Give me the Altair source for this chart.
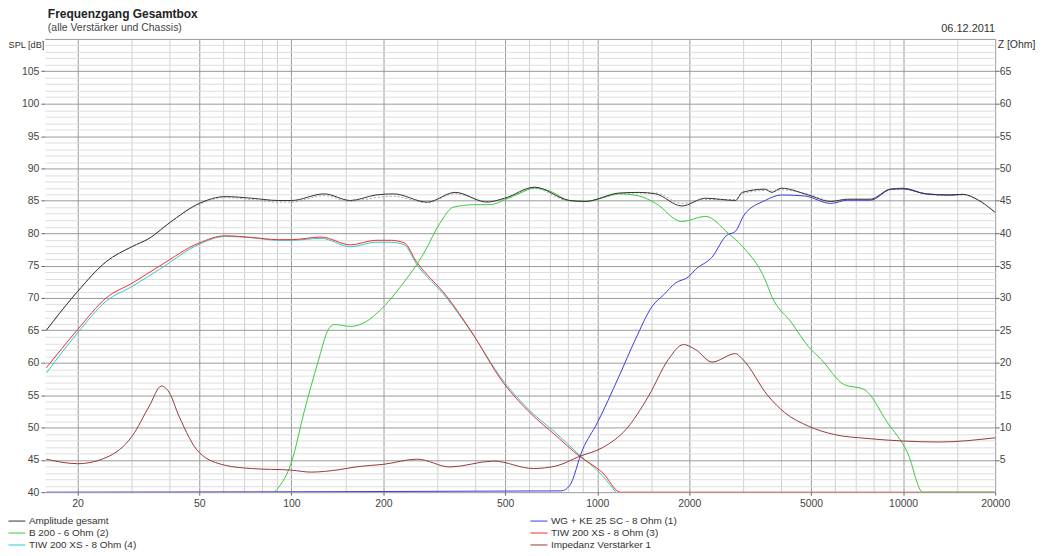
import altair as alt
import pandas as pd

# ---------------- data ----------------
amp_f = [15.8, 20, 24.8, 30.2, 34.3, 39.8, 50, 60.8, 74.2, 90.6, 100, 128, 156, 189, 216, 278, 343, 436, 498,
         624, 812, 914, 1178, 1369, 1553, 1890, 2258, 2832, 2978, 3540, 3720, 4000, 4900, 5800, 6580, 7820,
         9110, 10000, 11900, 14140, 15700, 17500, 20000]
amp_db = [65.0, 71.0, 75.6, 77.95, 79.2, 81.55, 84.6, 85.65, 85.4, 85.05, 85.05, 86.07, 85.05, 85.9, 86.07, 84.8,
          86.3, 84.8, 85.4, 87.1, 85.05, 84.9, 86.2, 86.3, 86.07, 84.2, 85.4, 85.05, 86.3, 86.8, 86.3, 86.95, 85.9,
          84.9, 85.25, 85.25, 86.8, 86.85, 86.07, 85.9, 86.0, 85.2, 83.2]
amp_ref_db = [65.0, 71.0, 75.6, 77.95, 79.2, 81.5, 84.5, 85.5, 85.2, 84.8, 84.8, 85.8, 84.9, 85.5, 85.7, 84.7,
              86.1, 84.9, 85.3, 86.9, 85.0, 85.0, 86.1, 86.2, 86.2, 84.6, 85.2, 85.2, 86.1, 86.6, 86.5, 86.7, 86.0,
              85.0, 85.1, 85.1, 86.7, 86.8, 86.0, 85.8, 85.9, 85.1, 83.2]

wg_f = [15.8, 763, 812, 896, 1000, 1178, 1333, 1512, 1650, 1802, 1992, 2096, 2372, 2640, 2832, 3020, 3540, 4000,
        4760, 5800, 6580, 7820, 9110, 10000, 11900, 14140, 15700]
wg_db = [40.0, 40.2, 41.0, 46.6, 50.7, 57.9, 63.6, 68.7, 70.5, 72.3, 73.3, 74.4, 76.3, 79.6, 80.3, 82.8, 85.05,
         85.9, 85.75, 84.6, 85.1, 85.1, 86.8, 86.95, 86.07, 85.9, 86.0]

b200_f = [88, 100, 110.6, 122, 132, 138, 156, 175, 196, 228, 271, 306, 338, 394, 446, 498, 560, 624, 700, 812, 914,
          1050, 1178, 1369, 1553, 1890, 2258, 2680, 2978, 3540, 3720, 4330, 4900, 5400, 6420, 7440, 8900, 10340,
          11600, 20000]
b200_db = [40.0, 44.6, 52.8, 60.0, 65.1, 65.9, 65.6, 66.3, 68.2, 71.8, 76.9, 81.55, 84.0, 84.4, 84.4, 85.15, 86.2,
           87.0, 86.5, 85.05, 84.9, 85.5, 86.07, 85.75, 84.6, 81.8, 82.6, 80.0, 78.0, 72.8, 70.25, 66.1, 62.5, 60.5,
           56.6, 55.9, 50.7, 46.1, 40.0, 40.0]

tiw3_f = [15.8, 20, 24.8, 30.2, 37, 50, 60.8, 74, 90.6, 100, 125, 156, 189, 212, 234, 256, 322, 384, 493, 602, 734,
          872, 1042, 1190, 20000]
tiw3_db = [59.2, 65.1, 70.0, 72.3, 74.9, 78.5, 79.6, 79.35, 79.0, 79.0, 79.4, 78.2, 78.9, 78.9, 78.5, 75.65, 70.25,
           65.1, 56.9, 52.3, 48.7, 45.6, 43.0, 40.0, 40.0]

tiw4_f = [15.8, 20, 24.8, 30.2, 37, 50, 60.8, 74, 90.6, 100, 125, 156, 189, 212, 234, 256, 322, 384, 493, 602, 734,
          872, 1042, 1150]
tiw4_db = [58.4, 64.6, 69.5, 71.8, 74.4, 78.3, 79.5, 79.3, 78.9, 78.9, 79.2, 77.9, 78.6, 78.6, 78.2, 75.3, 70.0,
           65.0, 57.2, 52.6, 49.1, 45.8, 42.5, 40.0]

imp_f = [15.8, 20, 24.8, 30.2, 34.3, 37.6, 39.8, 42.9, 50, 60.8, 74, 100, 116, 142, 165, 200, 258, 330, 458, 618,
         734, 872, 1042, 1242, 1472, 1708, 1914, 2100, 2372, 2832, 2978, 3620, 4100, 4900, 5960, 7620, 10000, 13100,
         20000]
imp_z = [5.1, 4.4, 5.35, 8.7, 13.3, 16.4, 15.45, 11.75, 6.1, 4.15, 3.65, 3.4, 3.1, 3.45, 3.95, 4.3, 5.1, 3.9, 4.8,
         3.65, 4.05, 5.5, 6.9, 9.7, 14.85, 20.5, 22.8, 22.0, 20.1, 21.4, 20.6, 14.85, 12.3, 10.2, 8.9, 8.3, 7.9, 7.75,
         8.4]

# legend order (column-major: left column first, then right column)
series_names = ["Amplitude gesamt", "B 200 - 6 Ohm (2)", "TIW 200 XS - 8 Ohm (4)",
                "WG + KE 25 SC - 8 Ohm (1)", "TIW 200 XS - 8 Ohm (3)", "Impedanz Verstärker 1"]
series_colors = ["#333333", "#3cc83c", "#33c8c8", "#3a3ae0", "#ee2e2e", "#963a3a"]

x_labels = [20, 50, 100, 200, 500, 1000, 2000, 5000, 10000, 20000]
x_grid = [20, 30, 40, 50, 60, 70, 80, 90, 100, 150, 200, 300, 400, 500, 600, 700, 800, 900, 1000, 1500,
          2000, 3000, 4000, 5000, 6000, 7000, 8000, 9000, 10000, 15000, 20000]

FONT = "Liberation Sans"
W, H = 954, 455


def frame(f, v, name):
    return pd.DataFrame({"f": f, "v": v, "s": name})


color = alt.Color("s:N", scale=alt.Scale(domain=series_names, range=series_colors),
                  legend=alt.Legend(title=None, orient="none", legendX=-37, legendY=478, columns=2,
                                    columnPadding=395, rowPadding=0, symbolType="stroke", symbolSize=289,
                                    symbolStrokeWidth=1, labelFont=FONT, labelFontSize=10, labelColor="#333",
                                    labelOffset=3, direction="vertical", clipHeight=12))

x_test = "indexof(" + str(x_labels) + ", datum.value) >= 0"
x_enc = alt.X("f:Q", scale=alt.Scale(type="log", domain=[15.63, 20000], nice=False),
              axis=alt.Axis(values=x_grid, title=None, domain=False,
                            labelExpr="(" + x_test + ") ? '' + datum.value : ''",
                            gridColor={"condition": {"test": x_test, "value": "#9a9a9a"}, "value": "#d0d0d0"},
                            tickOpacity={"condition": {"test": x_test, "value": 1}, "value": 0},
                            tickSize=3, tickColor="#666", labelPadding=3, labelFlush=False))

y_test = "datum.value % 5 === 0"
y_spl = alt.Y("v:Q", scale=alt.Scale(domain=[40, 110], nice=False, zero=False),
              axis=alt.Axis(values=list(range(40, 111)), orient="left", domain=False,
                            title="SPL [dB]", titleAngle=0, titleAlign="right", titleBaseline="middle",
                            titleX=-1, titleY=6, titleFont=FONT, titleFontSize=9.2, titleFontWeight="normal",
                            titleColor="#333",
                            labelExpr="(" + y_test + " && datum.value < 110) ? datum.label : ''",
                            gridColor={"condition": {"test": y_test, "value": "#9a9a9a"}, "value": "#dedede"},
                            tickOpacity={"condition": {"test": y_test + " && datum.value < 110", "value": 1},
                                         "value": 0},
                            tickSize=4, tickColor="#666", labelPadding=2))

def line(df, **kw):
    return alt.Chart(df).mark_line(strokeWidth=1, interpolate="monotone", clip=True, **kw)

ref_line = line(frame(amp_f, amp_ref_db, "ref"), strokeDash=[2, 2]).encode(
    x=x_enc, y=y_spl, color=alt.value("#aaaaaa"))

layers = [ref_line]
for f, v, n in [(tiw4_f, tiw4_db, "TIW 200 XS - 8 Ohm (4)"), (tiw3_f, tiw3_db, "TIW 200 XS - 8 Ohm (3)"),
                (b200_f, b200_db, "B 200 - 6 Ohm (2)"), (wg_f, wg_db, "WG + KE 25 SC - 8 Ohm (1)"),
                (amp_f, amp_db, "Amplitude gesamt")]:
    layers.append(line(frame(f, v, n)).encode(x=x_enc, y=y_spl, color=color))

date_txt = alt.Chart(pd.DataFrame({"t": ["06.12.2011"]})).mark_text(
    align="right", baseline="middle", font=FONT, fontSize=11, color="#333").encode(
    text="t:N", x=alt.value(W), y=alt.value(-10))
layers.append(date_txt)

spl = alt.layer(*layers)

imp = line(frame(imp_f, imp_z, "Impedanz Verstärker 1")).encode(
    x=x_enc,
    y=alt.Y("v:Q", scale=alt.Scale(domain=[0, 70], nice=False),
            axis=alt.Axis(values=list(range(0, 71)), orient="right", domain=False, grid=False,
                          title="Z [Ohm]", titleAngle=0, titleAlign="left", titleBaseline="middle",
                          titleX=2, titleY=6, titleFont=FONT, titleFontSize=10.5, titleFontWeight="normal",
                          titleColor="#333",
                          labelExpr="(" + y_test + " && datum.value > 0 && datum.value < 70) ? datum.label : ''",
                          tickOpacity={"condition": {"test": y_test + " && datum.value > 0 && datum.value < 70",
                                                     "value": 1}, "value": 0},
                          tickSize=4, tickColor="#666", labelPadding=0)),
    color=color)

chart = alt.layer(spl, imp).resolve_scale(y="independent").properties(
    width=W, height=H,
    title=alt.TitleParams("Frequenzgang Gesamtbox", subtitle="(alle Verstärker und Chassis)",
                          anchor="start", frame="group", dx=3, offset=-12, font=FONT, fontSize=12,
                          fontWeight="bold", color="#222", subtitleFont=FONT, subtitleFontSize=10.5,
                          subtitleColor="#444", subtitlePadding=3),
    autosize=alt.AutoSizeParams(type="none"),
    padding={"left": 37, "top": 30, "right": 45, "bottom": 62},
).configure_view(strokeWidth=0).configure_axis(
    labelFont=FONT, labelFontSize=10.5, labelColor="#444")

chart.save("out.html", embed_options={"renderer": "svg", "actions": False})
